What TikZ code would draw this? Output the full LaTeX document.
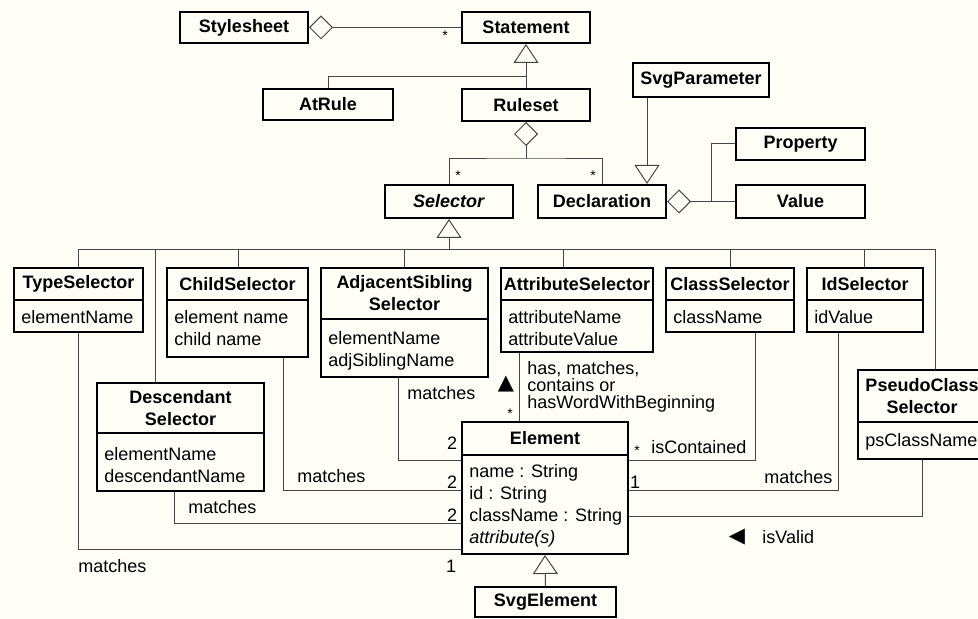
\documentclass[tikz,border=0pt]{standalone}
\usepackage{fontspec}
\setmainfont{Liberation Sans}
\newfontfamily\symfont{DejaVu Sans}
\usetikzlibrary{arrows.meta,fit}
\definecolor{paper}{RGB}{254,254,246}
\definecolor{wire}{RGB}{70,70,70}

\begin{document}
\begin{tikzpicture}[x=0.5pt,y=-0.5pt,
  every node/.style={font=\fontsize{9}{11}\selectfont},
  box/.style={draw,line width=1pt,inner sep=0pt},
  head/.style={font=\fontsize{9}{11}\selectfont\bfseries,align=center,inner sep=0pt},
  attrs/.style={anchor=north west,inner sep=0pt,align=left},
  lbl/.style={inner sep=0pt},
  divider/.style={line width=0.6pt},
  link/.style={draw=wire,line width=0.5pt},
  gen/.style={link,-{Triangle[open,length=9.5pt,width=12.5pt]}},
  agg/.style={link,{Diamond[open,length=12pt,width=12pt]}-},
  mult/.style={anchor=base,inner sep=0pt,font=\fontsize{7}{8}\selectfont}]
\useasboundingbox (0,0) rectangle (978,619);
\clip (0,0) rectangle (978,619);
\fill[paper] (0,0) rectangle (978,619);
% plain boxes
\foreach \n/\pa/\pb/\ttl in {sheet/{180,12}/{308,43}/Stylesheet, stmt/{462,12}/{590,43}/Statement,
  atrule/{263,89}/{393,120}/AtRule, rules/{462,89}/{590,121}/Ruleset, svgpar/{633,63}/{769,97}/SvgParameter,
  prop/{736,128}/{865,160}/Property, sel/{385,185}/{513,218}/\textit{Selector}, decl/{538,185}/{666,218}/Declaration,
  value/{736,185}/{865,218}/Value, svgelem/{475,587}/{616,617}/SvgElement}
  {\node[box,fit={(\pa)(\pb)}] (\n) {}; \node[head] (\n-n) at (\n) {\ttl};}
% class boxes with attributes
\foreach \n/\xa/\ya/\xb/\yb/\yd/\ttl/\atr/\ay in {typesel/14/268/143/332/300/TypeSelector/elementName/310,
  childsel/167/268/308/357/300/ChildSelector/{element name\\child name}/310,
  adjsel/321/268/488/377/319/{AdjacentSibling\\Selector}/{elementName\\adjSiblingName}/331,
  attrsel/501/268/653/352/300/AttributeSelector/{attributeName\\attributeValue}/310,
  classsel/666/268/794/332/300/ClassSelector/className/310,
  idsel/807/268/923/332/300/IdSelector/idValue/310,
  descsel/97/383/264/491/433/{Descendant\\Selector}/{elementName\\descendantName}/447,
  pseudo/858/370/986/459/422/{PseudoClass\\Selector}/psClassName/433,
  elem/462/422/628/554/455/Element/{name : String\\id : String\\className : String\\\textit{attribute(s)}}/464}
  {\node[box,fit={(\xa,\ya)(\xb,\yb)}] (\n) {}; \draw[divider] (\xa,\yd) -- (\xb,\yd);
   \node[head] (\n-n) at ({(\xa+\xb)/2},{(\ya+\yd)/2}) {\ttl};
   \node[attrs] (\n-a) at (\xa+7,\ay) {\atr};}
% stylesheet, statement, ruleset
\draw[agg] (sheet.east) -- (stmt.west); \node[mult] (m1) at (445,41) {*};
\coordinate (sj) at (526,77); \draw[gen] (sj) -- (stmt.south); \draw[link] (atrule.north) |- (sj) -- (rules.north);
\coordinate (rj) at (526,159); \draw[agg] (rules.south) -- (rj); \draw[link] (sel.north) |- (rj) -| (decl.north);
\node[mult] (m2) at (458,181) {*}; \node[mult] (m3) at (593,181) {*};
\draw[gen] (svgpar.south -| 647,0) -- (decl.north -| 647,0);
\coordinate (dj) at (711,201.5); \draw[agg] (decl.east) -- (value.west); \draw[link] (prop.west) -| (dj);
% selector hierarchy
\coordinate (tj) at (449,250); \draw[gen] (tj) -- (sel.south);
\draw[link] (typesel.north) |- (935,250) -- (pseudo.north -| 935,0);
\foreach \n/\x in {descsel/155, childsel/238, adjsel/404, attrsel/563, classsel/730, idsel/864}
  \draw[link] (\x,250) -- (\n.north -| \x,0);
% associations to element
\draw[link] (adjsel.south -| 398,0) |- (elem.west |- 0,460);
\draw[link] (childsel.south -| 283,0) |- (elem.west |- 0,490);
\draw[link] (descsel.south -| 174,0) |- (elem.west |- 0,523);
\draw[link] (typesel.south) |- (elem.west |- 0,549);
\draw[link] (attrsel.south -| 519,0) -- (elem.north -| 519,0);
\draw[link] (classsel.south -| 755,0) |- (elem.east |- 0,460);
\draw[link] (idsel.south -| 838,0) |- (elem.east |- 0,490);
\draw[link] (pseudo.south) |- (elem.east |- 0,516);
\draw[gen] (svgelem.north) -- (elem.south);
% labels
\foreach \y [count=\i] in {443,482,515} \node[lbl] (two\i) at (452,\y) {2};
\node[lbl] (one1) at (451,566) {1}; \node[lbl] (one2) at (635,482) {1};
\node[lbl,anchor=west] (mt1) at (407,393) {matches};
\node[lbl,anchor=west] (mt2) at (297,476) {matches};
\node[lbl,anchor=west] (mt3) at (188,507) {matches};
\node[lbl,anchor=west] (mt4) at (78,566) {matches};
\node[lbl,anchor=west] (mt5) at (764,477) {matches};
\node[mult] (m4) at (510,418) {*}; \node[mult] (m5) at (637,455) {*};
\node[lbl,anchor=west] (cont) at (651,447) {isContained};
\node[lbl,anchor=west] (valid) at (762,537) {isValid};
\node[lbl,font=\symfont\fontsize{10.5}{11}\selectfont] (up) at (506,384) {▲};
\node[lbl,font=\symfont\fontsize{10.5}{11}\selectfont] (left) at (737,537) {◀};
\node[lbl,anchor=west,align=left,font=\fontsize{9}{8.5}\selectfont] (has) at (527,387) {has, matches,\\contains or\\hasWordWithBeginning};
\end{tikzpicture}
\end{document}
